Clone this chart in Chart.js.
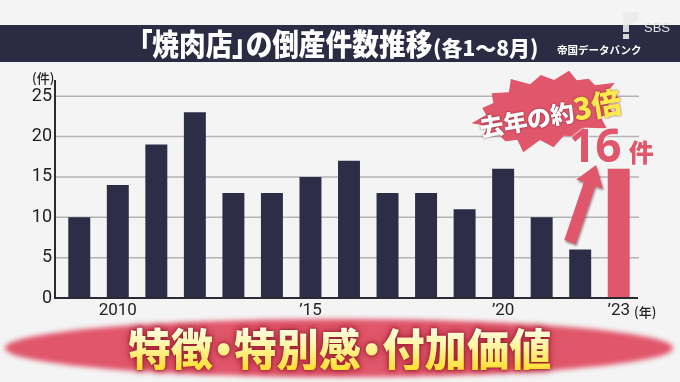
<!DOCTYPE html>
<html lang="ja">
<head>
<meta charset="utf-8">
<script src="https://cdn.jsdelivr.net/npm/chart.js@4.4.1/dist/chart.umd.min.js"></script>
<style>
    html, body { margin: 0; padding: 0; }
    body {
        width: 680px; height: 382px; overflow: hidden; position: relative;
        background: #f4f4f4;
        font-family: "Noto Sans CJK JP", sans-serif;
    }
    #chart { position: absolute; left: 0; top: 0; }
    .band { position: absolute; left: 0; top: 25px; width: 680px; height: 37px; background: #2c2b44; }
    .title {
        position: absolute; left: 139px; top: 27px; color: #fff; font-weight: 900;
        font-size: 30px; line-height: 30px; white-space: nowrap;
        font-feature-settings: "palt";
        transform: scaleX(0.89); transform-origin: left center;
    }
    .subtitle {
        position: absolute; left: 433px; top: 37px; color: #fff; font-weight: 900;
        font-size: 21px; line-height: 21px; white-space: nowrap;
    }
    .source {
        position: absolute; left: 557px; top: 44px; color: #fff; font-weight: 700;
        font-size: 10.5px; line-height: 11px; white-space: nowrap;
    }
    .logo-bar { position: absolute; left: 623px; top: 12px; width: 6px; height: 20px; background: rgba(235,235,235,0.9); }
    .logo-flag { position: absolute; left: 629px; top: 12px; width: 10px; height: 12px; background: rgba(235,235,235,0.9);
        clip-path: polygon(0 0, 100% 0, 100% 60%, 0 100%); }
    .logo-dot { position: absolute; left: 623px; top: 34px; width: 6px; height: 5px; background: rgba(235,235,235,0.9); }
    .logo-text { position: absolute; left: 644px; top: 21px; color: #e6e6e6; font-family: "Liberation Sans", sans-serif;
        font-size: 13px; line-height: 13px; }
    .unit { position: absolute; color: #222; font-size: 13px; line-height: 13px; font-weight: 500; white-space: nowrap; }
    .ellipse {
        position: absolute; left: 5px; top: 319px; width: 668px; height: 58px; border-radius: 50%;
        background: #e0566a; filter: blur(2.5px);
    }
    .slogan {
        position: absolute; left: 0; top: 325px; width: 680px; text-align: center;
        font-size: 45px; line-height: 45px; font-weight: 900; white-space: nowrap;
        font-feature-settings: "palt";
        transform: scaleX(0.94);
        background: linear-gradient(to bottom, #fffdf0 0%, #fff6a6 45%, #ffdf2e 100%);
        -webkit-background-clip: text; background-clip: text; color: transparent;
        filter: drop-shadow(0 0 1.5px #8e1a2b) drop-shadow(0 0 4px rgba(160,20,40,0.8));
    }
    #deco { position: absolute; left: 0; top: 0; }
    .burst-text {
        position: absolute; left: 550px; top: 112px; white-space: nowrap; line-height: 1;
        transform: translate(-50%, -50%) rotate(-10deg); font-weight: 900;
        font-feature-settings: "palt";
    }
    .burst-text .w { color: #fff; font-size: 24px; text-shadow: 0 0 2px rgba(90,10,20,0.8); }
    .burst-text .y { color: #ffe94d; font-size: 30px; text-shadow: 0 0 2px rgba(90,10,20,0.8); }
    .total {
        position: absolute; left: 569px; top: 121px; white-space: nowrap; line-height: 46px;
        color: #e0566a; text-shadow: 0 0 2px #fff, 0 0 2px #fff;
    }
    .total .num { font-family: "Noto Sans", sans-serif; font-weight: 700; font-size: 46px; }
    .total .ken { font-weight: 900; font-size: 25px; margin-left: 7px; }
</style>
</head>
<body>
<canvas id="chart" width="680" height="382"></canvas>

<div class="band"></div>
<div class="title">「焼肉店」の倒産件数推移</div>
<div class="subtitle">(各1～8月)</div>
<div class="source">帝国データバンク</div>
<div class="logo-bar"></div><div class="logo-flag"></div><div class="logo-dot"></div>
<div class="logo-text">SBS</div>

<div class="unit" style="left:32px; top:71px;">(件)</div>
<div class="unit" style="left:634px; top:305px;">(年)</div>

<svg id="deco" width="680" height="382">
    <polygon id="burst" fill="#e0566a" transform="translate(547 110) rotate(-10)"></polygon>
    <polygon id="arrow" fill="#e0566a" style="filter: drop-shadow(1px 2px 1px rgba(60,0,10,0.45));"></polygon>
</svg>
<div class="burst-text"><span class="w">去年の約</span><span class="y">3倍</span></div>
<div class="total"><span class="num">16</span><span class="ken">件</span></div>

<div class="ellipse"></div>
<div class="slogan">特徴・特別感・付加価値</div>

<script>
const years = [2009, 2010, 2011, 2012, 2013, 2014, 2015, 2016, 2017, 2018, 2019, 2020, 2021, 2022, 2023];
const counts = [10, 14, 19, 23, 13, 13, 15, 17, 13, 13, 11, 16, 10, 6, 16];
const yTicks = [0, 5, 10, 15, 20, 25];
const xTickLabels = new Map([[2010, "2010"], [2015, "’15"], [2020, "’20"], [2023, "’23"]]);

const barColor = "#2e2d48";
const highlightColor = "#e0566a";
const gridColor = "#b4b4b4";
const axisColor = "#2a2a35";
const tickColor = "#222";

// grid + axis lines start a bit left of the plot, like the source graphic
const axisFrame = {
    id: "axisFrame",
    beforeDatasetsDraw(chart) {
        const { ctx, chartArea, scales: { y } } = chart;
        const x0 = chartArea.left - 5;
        ctx.save();
        ctx.strokeStyle = gridColor;
        ctx.lineWidth = 1.5;
        yTicks.forEach(v => {
            if (v === 0) return;
            const py = y.getPixelForValue(v);
            ctx.beginPath();
            ctx.moveTo(x0, py);
            ctx.lineTo(chartArea.right + 1, py);
            ctx.stroke();
        });
        ctx.restore();
    },
    afterDatasetsDraw(chart) {
        const { ctx, chartArea, scales: { y } } = chart;
        const x0 = chartArea.left - 5;
        const y0 = y.getPixelForValue(0);
        ctx.save();
        ctx.strokeStyle = axisColor;
        ctx.lineWidth = 2;
        ctx.beginPath();
        ctx.moveTo(x0, chartArea.top);
        ctx.lineTo(x0, y0);
        ctx.lineTo(chartArea.right, y0);
        ctx.stroke();
        ctx.restore();
    }
};

new Chart(document.getElementById("chart"), {
    type: "bar",
    data: {
        labels: years,
        datasets: [{
            data: counts,
            backgroundColor: (c) => c.dataIndex === counts.length - 1 ? highlightColor : barColor,
            categoryPercentage: 1,
            barPercentage: 0.57,
            borderWidth: 0
        }]
    },
    options: {
        responsive: false,
        animation: false,
        devicePixelRatio: 1,
        layout: { padding: { top: 80, right: 42, left: 0, bottom: 0 } },
        plugins: { legend: { display: false }, tooltip: { enabled: false } },
        scales: {
            x: {
                grid: { display: false, drawTicks: false },
                border: { display: false },
                afterFit: (s) => { s.height = 84; },
                ticks: {
                    autoSkip: false,
                    maxRotation: 0,
                    padding: 3,
                    color: tickColor,
                    font: { family: "Roboto", size: 17 },
                    callback: (v, i) => xTickLabels.get(years[i]) || ""
                }
            },
            y: {
                min: 0,
                max: 27,
                grid: { display: false, drawTicks: false },
                border: { display: false },
                afterFit: (s) => { s.width = 60; },
                afterBuildTicks: (s) => { s.ticks = yTicks.map(v => ({ value: v })); },
                ticks: {
                    padding: 8,
                    color: tickColor,
                    font: { family: "Roboto", size: 18 }
                }
            }
        }
    },
    plugins: [axisFrame]
});

// starburst behind "去年の約3倍"
const spikes = [1.0, 0.95, 1.08, 0.92, 1.02, 1.1, 0.9, 1.0, 1.05, 0.94, 1.0, 1.08, 0.96, 1.02, 0.9, 1.06];
const pts = [];
spikes.forEach((k, i) => {
    const a1 = (i / spikes.length) * Math.PI * 2;
    const a2 = ((i + 0.5) / spikes.length) * Math.PI * 2;
    pts.push([Math.cos(a1) * 73 * k, Math.sin(a1) * 37 * k]);
    pts.push([Math.cos(a2) * 62, Math.sin(a2) * 29]);
});
document.getElementById("burst").setAttribute("points", pts.map(p => p[0].toFixed(1) + "," + p[1].toFixed(1)).join(" "));

// arrow pointing up to the 2023 total
const tail = [570, 242], tip = [596, 165];
const len = Math.hypot(tip[0] - tail[0], tip[1] - tail[1]);
const u = [(tip[0] - tail[0]) / len, (tip[1] - tail[1]) / len];
const n = [-u[1], u[0]];
const base = [tip[0] - u[0] * 20, tip[1] - u[1] * 20];
const sw = 6, hw = 14;
const arrowPts = [
    [tail[0] + n[0] * sw, tail[1] + n[1] * sw],
    [base[0] + n[0] * sw, base[1] + n[1] * sw],
    [base[0] + n[0] * hw, base[1] + n[1] * hw],
    tip,
    [base[0] - n[0] * hw, base[1] - n[1] * hw],
    [base[0] - n[0] * sw, base[1] - n[1] * sw],
    [tail[0] - n[0] * sw, tail[1] - n[1] * sw]
];
document.getElementById("arrow").setAttribute("points", arrowPts.map(p => p[0].toFixed(1) + "," + p[1].toFixed(1)).join(" "));
</script>
</body>
</html>
